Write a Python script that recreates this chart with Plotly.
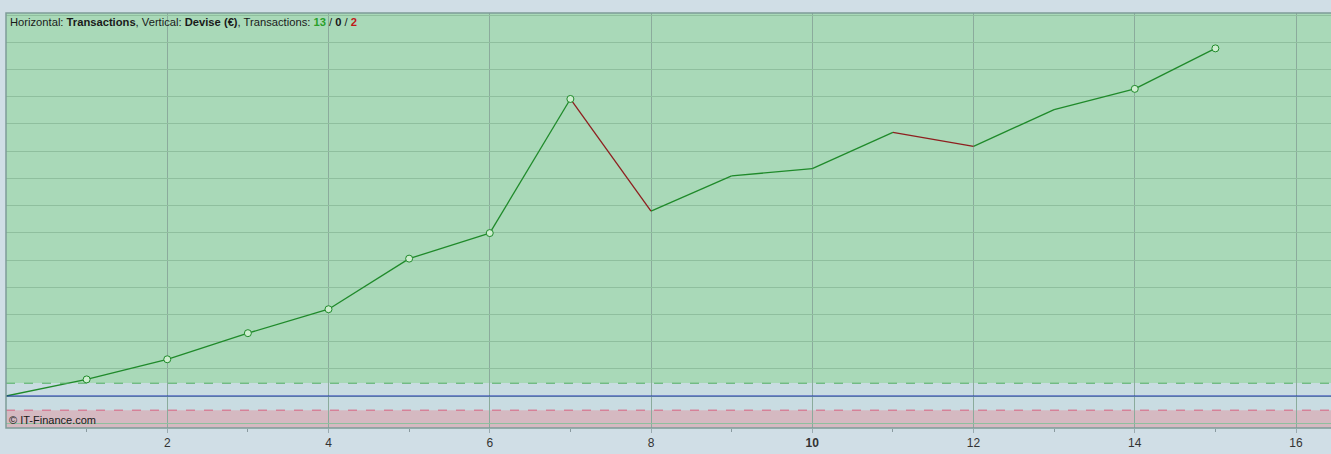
import plotly.graph_objects as go

# ---- data ----
trade_index = [0, 1, 2, 3, 4, 5, 6, 7, 8, 9, 10, 11, 12, 13, 14, 15]
equity = [0.0, 0.61, 1.35, 2.31, 3.19, 5.05, 5.99, 10.92, 6.80, 8.09, 8.36,
          9.69, 9.18, 10.53, 11.29, 12.78]
upper_band = 0.47
lower_band = -0.52
tick_values = [2, 4, 6, 8, 10, 12, 14, 16]
tick_labels = ["2", "4", "6", "8", "<b>10</b>", "12", "14", "16"]
n_win, n_even, n_loss = 13, 0, 2

GREEN = "#1f8a2a"
RED = "#8e1f1f"

fig = go.Figure()

# segments coloured by direction
gx, gy, rx, ry = [], [], [], []
for i in range(1, len(equity)):
    seg_x = [trade_index[i - 1], trade_index[i], None]
    seg_y = [equity[i - 1], equity[i], None]
    if equity[i] >= equity[i - 1]:
        gx += seg_x; gy += seg_y
    else:
        rx += seg_x; ry += seg_y

fig.add_trace(go.Scatter(x=gx, y=gy, mode="lines", line=dict(color=GREEN, width=1.3),
                         hoverinfo="skip", showlegend=False))
fig.add_trace(go.Scatter(x=rx, y=ry, mode="lines", line=dict(color=RED, width=1.3),
                         hoverinfo="skip", showlegend=False))

# markers at new highs
hx, hy = [], []
peak = equity[0]
for xi, yi in zip(trade_index[1:], equity[1:]):
    if yi > peak:
        hx.append(xi); hy.append(yi); peak = yi
fig.add_trace(go.Scatter(x=hx, y=hy, mode="markers",
                         marker=dict(size=7, color="#cdeecf", line=dict(color=GREEN, width=1)),
                         showlegend=False))

y0, y1 = -1.176, 14.08
x0, x1 = 0, 16.434
shapes = [
    dict(type="rect", xref="x", yref="y", x0=x0, x1=x1, y0=upper_band, y1=y1,
         fillcolor="#a9d9b8", line=dict(width=0), layer="below"),
    dict(type="rect", xref="x", yref="y", x0=x0, x1=x1, y0=lower_band, y1=upper_band,
         fillcolor="#c9dce2", line=dict(width=0), layer="below"),
    dict(type="rect", xref="x", yref="y", x0=x0, x1=x1, y0=y0, y1=lower_band,
         fillcolor="#d5b9c1", line=dict(width=0), layer="below"),
    dict(type="line", xref="x", yref="y", x0=x0, x1=x1, y0=upper_band, y1=upper_band,
         line=dict(color="#4fae60", width=1, dash="dash"), layer="above"),
    dict(type="line", xref="x", yref="y", x0=x0, x1=x1, y0=lower_band, y1=lower_band,
         line=dict(color="#d8607e", width=1, dash="dash"), layer="above"),
    dict(type="line", xref="x", yref="y", x0=x0, x1=x1, y0=0, y1=0,
         line=dict(color="#1f30b0", width=1.2), layer="above"),
    dict(type="rect", xref="paper", yref="paper", x0=0, x1=1.01, y0=0, y1=1,
         line=dict(color="#7d9c98", width=1.5)),
]

fig.update_layout(
    width=1331, height=454,
    margin=dict(l=6, r=0, t=13, b=26),
    paper_bgcolor="#d0dee6",
    plot_bgcolor="#d0dee6",
    shapes=shapes,
    font=dict(family="Liberation Sans, Arial, sans-serif", size=11, color="#222"),
    xaxis=dict(range=[x0, x1], tickvals=tick_values, ticktext=tick_labels,
               showgrid=True, gridcolor="#8bab9c", gridwidth=1,
               ticks="outside", ticklen=4, tickcolor="#9aaab0",
               minor=dict(tickvals=[1, 3, 5, 7, 9, 11, 13, 15], ticks="outside",
                          ticklen=3, tickcolor="#8a9aa0", showgrid=False),
               zeroline=False, showline=False,
               tickfont=dict(size=12, color="#333")),
    yaxis=dict(range=[y0, y1], dtick=1, tick0=0, showgrid=True, gridcolor="#8fbf9e",
               gridwidth=1, showticklabels=False, zeroline=False, ticks=""),
    annotations=[
        dict(xref="paper", yref="paper", x=0, y=1, xanchor="left", yanchor="top",
             xshift=2, yshift=-1, showarrow=False, align="left",
             text=("Horizontal: <b>Transactions</b>, Vertical: <b>Devise (€)</b>, Transactions: "
                   f"<span style='color:#2aa02a'><b>{n_win}</b></span> / <b>{n_even}</b> / "
                   f"<span style='color:#c01818'><b>{n_loss}</b></span>"),
             font=dict(size=11.2, color="#1a1a1a")),
        dict(xref="paper", yref="paper", x=0, y=0, xanchor="left", yanchor="bottom",
             xshift=1, yshift=0, showarrow=False, text="© IT-Finance.com",
             font=dict(size=11, color="#1a1a1a")),
    ],
)

fig.write_html("out.html", config={"displayModeBar": False},
               post_script="document.body.style.margin='0';document.body.style.overflow='hidden';")
